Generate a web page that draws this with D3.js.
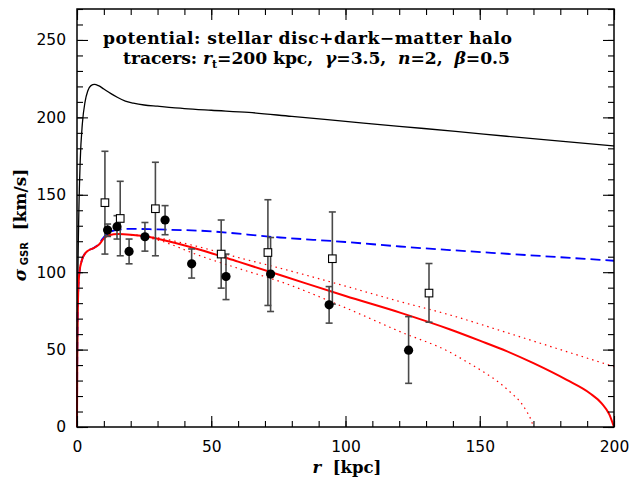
<!DOCTYPE html>
<html><head><meta charset="utf-8">
<script src="https://cdn.jsdelivr.net/npm/d3@7"></script>
<style>body{margin:0;background:#fff}svg{display:block}</style>
</head><body>
<svg id="c" width="633" height="479"></svg>
<script>
// ---- data ----
const xTicks = [0, 50, 100, 150, 200];
const yTicks = [0, 50, 100, 150, 200, 250];
// filled circles
const circR   = [11.4, 14.9, 19.4, 25.3, 32.8, 42.7, 55.5, 72.1, 93.9, 123.5];
const circSig = [127.2, 129.4, 113.4, 122.9, 133.7, 105.4, 97.2, 98.8, 78.9, 49.6];
const circLo  = [123.1, 121.4, 105.4, 113.6, 124.2, 96.2, 82.3, 74.6, 67.1, 28.2];
const circHi  = [131.1, 136.5, 121.4, 132.1, 143.0, 115.0, 111.7, 122.4, 90.7, 71.3];
// open squares
const sqR   = [10.4, 16.1, 29.2, 53.7, 71.1, 95.1, 131.1];
const sqSig = [144.9, 134.7, 141.0, 111.7, 112.7, 108.7, 86.5];
const sqLo  = [111.7, 110.6, 110.6, 89.7, 78.5, 79.4, 67.7];
const sqHi  = [178.1, 158.7, 171.0, 133.7, 146.8, 138.9, 105.6];
// model curves [r, sigma]
const blackR   = [0, 0.3, 0.7, 1.2, 2, 3, 4, 5.2, 6.5, 8, 10, 12.5, 15, 18, 21, 25, 30, 40, 50, 64, 80, 100, 120, 141, 160, 180, 200];
const blackSig = [0, 90, 140, 172, 196, 210, 217, 220.5, 221.3, 220.5, 218.3, 215.5, 213, 210.5, 209.2, 208, 207.2, 205.7, 204.6, 203.2, 200.6, 197.4, 194.2, 191, 187.8, 184.6, 181.5];
const blueR   = [0, 0.15, 0.4, 0.9, 1.9, 3.7, 6.2, 8, 9.5, 11, 13, 16, 20, 30, 45.8, 75.6, 100, 120.3, 138.9, 160, 200];
const blueSig = [0, 60, 85, 100, 108, 113.4, 115.6, 118, 121.5, 124.5, 126.5, 127.5, 128, 127.6, 126.8, 122.4, 119.5, 116.6, 114.3, 111.9, 107.4];
const redR   = [0, 0.1, 0.2, 0.37, 0.86, 1.86, 3.7, 6.2, 8.1, 9.9, 11.8, 15.5, 20, 25, 30, 45.8, 60, 75.6, 100, 120.3, 139, 150, 160, 170, 182.4, 191, 195.4, 198.3, 200];
const redSig = [0, 45, 65, 82, 99.4, 108, 113.4, 115.6, 117.7, 121.5, 123.8, 124.6, 124.2, 123.3, 121.6, 114.5, 106.8, 98.2, 84.6, 73.9, 63, 55.8, 49, 41.2, 30.4, 21.8, 15.3, 8, 0];
const upR   = [20, 25, 30, 45.8, 60, 75.6, 100, 120.3, 138.9, 160, 180, 200];
const upSig = [124.2, 123.5, 122.2, 116.2, 109.5, 102.6, 91, 81, 72.4, 61, 50, 39];
const loR   = [20, 25, 30, 45.8, 60, 75.6, 100, 120.3, 138.9, 145, 151, 157.5, 162, 165, 167.5, 169, 170];
const loSig = [124.2, 122.8, 120.8, 110.6, 102.5, 94, 77, 61.6, 48.3, 42.3, 36, 28.3, 21.5, 16.4, 10, 5, 0];

// ---- layout ----
const L = 77, R = 614, T = 9, B = 427;
const svg = d3.select("#c");
const x = d3.scaleLinear().domain([0, 200]).range([L, R]);
const y = d3.scaleLinear().domain([0, 270]).range([B, T]);

const zip = (a, b) => a.map((v, i) => [v, b[i]]);
const line = d3.line().x(d => x(d[0])).y(d => y(d[1])).curve(d3.curveMonotoneX);

const plot = svg.append("g");
plot.append("path").attr("d", line(zip(blackR, blackSig))).attr("fill", "none").attr("stroke", "#000").attr("stroke-width", 1.3);
plot.append("path").attr("d", line(zip(blueR, blueSig))).attr("fill", "none").attr("stroke", "#0000ff").attr("stroke-width", 1.8).attr("stroke-dasharray", "10,5");
plot.append("path").attr("d", line(zip(upR, upSig))).attr("fill", "none").attr("stroke", "#ff0000").attr("stroke-width", 1.2).attr("stroke-dasharray", "1.5,4");
plot.append("path").attr("d", line(zip(loR, loSig))).attr("fill", "none").attr("stroke", "#ff0000").attr("stroke-width", 1.2).attr("stroke-dasharray", "1.5,4");
plot.append("path").attr("d", line(zip(redR, redSig))).attr("fill", "none").attr("stroke", "#ff0000").attr("stroke-width", 2);

// error bars
function errBars(rs, lo, hi) {
  const g = plot.append("g").attr("stroke", "#4a4a4a").attr("stroke-width", 1.6);
  rs.forEach((r, i) => {
    g.append("line").attr("x1", x(r)).attr("x2", x(r)).attr("y1", y(lo[i])).attr("y2", y(hi[i]));
    g.append("line").attr("x1", x(r) - 3.5).attr("x2", x(r) + 3.5).attr("y1", y(lo[i])).attr("y2", y(lo[i]));
    g.append("line").attr("x1", x(r) - 3.5).attr("x2", x(r) + 3.5).attr("y1", y(hi[i])).attr("y2", y(hi[i]));
  });
}
errBars(sqR, sqLo, sqHi);
errBars(circR, circLo, circHi);
plot.append("g").selectAll("rect").data(zip(sqR, sqSig)).join("rect")
  .attr("x", d => x(d[0]) - 3.8).attr("y", d => y(d[1]) - 3.8).attr("width", 7.6).attr("height", 7.6)
  .attr("fill", "#fff").attr("stroke", "#000").attr("stroke-width", 1.1);
plot.append("g").selectAll("circle").data(zip(circR, circSig)).join("circle")
  .attr("cx", d => x(d[0])).attr("cy", d => y(d[1])).attr("r", 4.6).attr("fill", "#000");

// axes with inward ticks
const minorX = d3.range(0, 201, 10), minorY = d3.range(0, 271, 10);
function ax(gen, scale, vals, size, fmt, tr) {
  const a = gen(scale).tickValues(vals).tickSize(size).tickPadding(8);
  a.tickFormat(fmt ? d3.format("d") : "");
  const g = svg.append("g").attr("transform", tr).call(a);
  g.select(".domain").remove();
  g.selectAll(".tick line").attr("stroke", "#000").attr("stroke-width", 1.1);
  g.selectAll("text").attr("font-family", "DejaVu Sans").attr("font-size", 15.5).attr("fill", "#000");
  return g;
}
ax(d3.axisBottom, x, minorX, -6, false, `translate(0,${B})`);
ax(d3.axisBottom, x, xTicks, -11, true, `translate(0,${B})`).selectAll("text").attr("y", 25).attr("dy", null);
ax(d3.axisTop, x, minorX, -6, false, `translate(0,${T})`);
ax(d3.axisTop, x, xTicks, -11, false, `translate(0,${T})`);
ax(d3.axisLeft, y, minorY, -6, false, `translate(${L},0)`);
ax(d3.axisLeft, y, yTicks, -11, true, `translate(${L},0)`).selectAll("text").attr("dx", "-3");
ax(d3.axisRight, y, minorY, -6, false, `translate(${R},0)`);
ax(d3.axisRight, y, yTicks, -11, false, `translate(${R},0)`);

svg.append("rect").attr("x", L).attr("y", T).attr("width", R - L).attr("height", B - T)
  .attr("fill", "none").attr("stroke", "#000").attr("stroke-width", 1.5);

// texts
const serif = "DejaVu Serif";
svg.append("text").attr("x", 307.5).attr("y", 44).attr("text-anchor", "middle")
  .attr("font-family", serif).attr("font-weight", "bold").attr("font-size", 17.2)
  .attr("textLength", 409).attr("lengthAdjust", "spacing")
  .text("potential: stellar disc+dark\u2212matter halo");
const t2 = svg.append("text").attr("x", 316.5).attr("y", 64).attr("text-anchor", "middle")
  .attr("font-family", serif).attr("font-weight", "bold").attr("font-size", 17.2)
  .attr("textLength", 387).attr("lengthAdjust", "spacing")
  .style("white-space", "pre");
t2.append("tspan").text("tracers: ");
t2.append("tspan").attr("font-style", "italic").text("r");
t2.append("tspan").attr("font-size", 11).attr("dy", 4).text("t");
t2.append("tspan").attr("dy", -4).text("=200 kpc,  ");
t2.append("tspan").attr("font-style", "italic").text("\u03b3");
t2.append("tspan").text("=3.5,  ");
t2.append("tspan").attr("font-style", "italic").text("n");
t2.append("tspan").text("=2,  ");
t2.append("tspan").attr("font-style", "italic").text("\u03b2");
t2.append("tspan").text("=0.5");

const xl = svg.append("text").attr("x", 347).attr("y", 473).attr("text-anchor", "middle")
  .attr("font-family", serif).attr("font-weight", "bold").attr("font-size", 16.5).style("white-space", "pre");
xl.append("tspan").attr("font-style", "italic").text("r");
xl.append("tspan").text("  [kpc]");

const yl = svg.append("text").attr("transform", "translate(26,225) rotate(-90)").attr("text-anchor", "middle")
  .attr("font-family", serif).attr("font-weight", "bold").attr("font-size", 17).style("white-space", "pre");
yl.append("tspan").attr("font-style", "italic").text("\u03c3");
yl.append("tspan").attr("font-size", 10).attr("font-family", "DejaVu Sans").attr("dy", 2).text(" GSR");
yl.append("tspan").attr("dy", -2).text("  [km/s]");
</script>
</body></html>
